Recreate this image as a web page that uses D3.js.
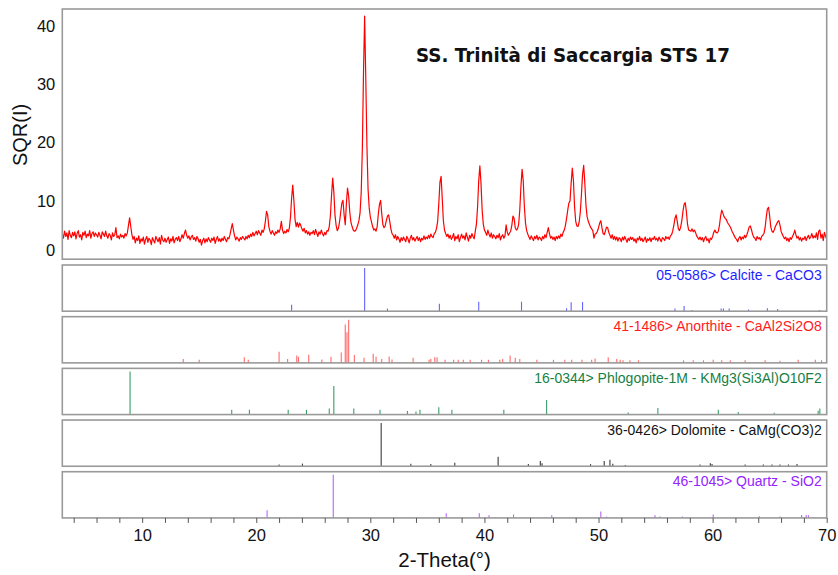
<!DOCTYPE html>
<html>
<head>
<meta charset="utf-8">
<script src="https://cdn.jsdelivr.net/npm/d3@7"></script>
<style>
  body { margin: 0; background: #fff; }
  svg { display: block; }
</style>
</head>
<body>
<svg id="chart" width="838" height="575"></svg>
<script>
// ---- Measured pattern: square root of counts, sampled every 0.1° from 3.0° to 70.0° 2θ ----
const thetaStart = 3.0;
const thetaStep = 0.1;
const sqrtIntensity = [
  4.3,3.6,4.8,3.9,4.5,3.4,4.9,4.1,3.7,4.6,
  4.0,4.7,3.5,4.4,4.9,3.8,4.2,3.3,4.6,4.1,
  4.8,3.7,4.3,4.0,4.9,3.6,4.4,4.7,3.9,4.5,
  4.2,3.8,4.6,4.1,3.5,4.7,4.3,3.9,4.8,4.0,
  3.6,4.4,4.1,3.3,4.5,3.9,4.2,5.4,3.7,4.0,
  3.5,4.3,3.8,4.1,3.6,4.4,4.0,4.5,5.8,7.1,
  5.6,4.2,3.4,3.9,2.8,3.6,3.2,4.0,2.7,3.5,
  3.1,3.8,2.6,3.4,3.9,2.9,3.6,3.3,2.5,3.7,
  3.2,2.8,3.9,3.4,3.0,3.7,2.6,4.1,3.3,3.0,
  3.6,2.9,3.4,3.8,2.7,3.5,3.1,3.9,2.8,3.4,
  3.7,3.2,3.9,3.0,3.5,4.2,3.6,4.4,5.0,4.1,
  3.6,4.0,3.3,3.8,4.1,3.4,3.7,3.1,3.9,3.5,
  2.9,3.4,2.4,3.2,3.6,2.8,3.5,3.0,3.7,3.3,
  2.9,3.6,3.2,3.8,2.7,3.4,3.9,3.1,3.5,3.0,
  3.6,3.2,3.9,3.4,3.0,3.7,3.5,4.2,5.2,6.1,
  5.0,4.0,3.3,3.8,3.5,3.1,3.7,3.4,3.9,3.6,
  3.3,3.9,3.5,4.1,3.7,4.3,3.9,4.6,4.0,4.4,
  4.8,4.2,4.9,4.5,4.1,5.0,4.6,5.2,6.5,8.2,
  7.6,5.6,4.8,4.3,4.9,4.5,4.1,4.7,4.4,5.0,
  4.6,5.2,6.5,5.0,4.4,4.8,4.5,5.1,4.7,5.3,
  7.2,10.5,12.7,10.0,6.8,5.6,6.3,5.5,6.2,5.8,
  5.2,4.8,5.3,4.5,4.9,4.3,4.7,4.1,4.6,4.4,
  4.9,4.2,5.1,4.5,3.9,4.7,4.3,5.0,4.4,4.0,
  4.6,4.2,4.9,4.8,5.6,7.5,11.0,13.9,11.5,7.6,
  5.8,4.9,5.3,6.4,8.0,9.6,10.1,7.6,5.9,9.5,
  12.2,10.8,8.0,6.3,5.6,5.0,4.8,4.9,5.3,5.9,
  6.6,8.0,11.5,19.0,32.0,41.7,31.0,19.5,12.0,8.8,
  7.2,6.4,5.6,5.0,5.2,4.8,5.6,7.8,9.4,10.1,
  7.8,5.9,5.4,5.7,6.6,7.4,7.6,6.5,5.2,4.4,
  4.1,3.6,4.2,3.3,3.9,3.5,2.9,3.7,3.2,3.8,
  3.4,3.0,3.9,3.5,2.8,3.6,4.1,3.3,3.7,3.1,
  3.5,3.9,3.2,3.7,3.0,3.6,3.3,4.0,3.4,3.8,
  3.5,4.1,3.6,4.3,3.9,3.7,4.4,4.6,5.3,6.5,
  9.5,13.2,14.2,10.5,6.6,5.0,4.4,3.9,4.3,3.6,
  4.1,3.4,3.8,4.4,3.2,3.9,3.5,4.2,3.0,3.7,
  4.3,3.6,4.0,3.3,4.5,3.8,3.1,4.1,3.6,4.4,
  3.9,3.5,4.8,6.0,9.0,13.5,16.0,13.0,8.4,6.0,
  5.0,4.6,4.1,5.0,4.3,3.8,4.5,3.6,4.2,3.9,
  3.5,4.1,3.7,4.4,3.3,3.9,4.2,3.6,4.0,5.9,
  4.6,4.1,4.5,4.8,5.8,7.4,7.0,5.4,5.0,5.2,
  6.0,8.5,12.5,15.4,13.5,9.0,6.2,4.9,4.3,3.8,
  3.4,4.0,3.6,3.2,3.9,3.5,4.1,3.3,3.8,3.6,
  3.2,3.9,3.5,4.2,3.7,4.6,5.4,4.4,3.6,3.9,
  3.4,3.8,3.2,3.9,3.5,4.0,3.6,4.3,3.9,4.6,
  5.0,5.8,7.0,8.4,9.6,10.0,13.0,15.6,13.5,9.0,
  6.5,5.7,5.6,6.3,8.0,11.0,14.5,16.1,13.0,9.2,
  7.3,6.5,6.0,5.5,5.2,4.9,3.6,4.3,4.4,4.8,
  5.4,6.2,6.6,5.4,4.4,4.2,4.8,5.5,5.4,4.6,
  4.1,3.6,4.2,3.4,3.9,3.3,3.8,3.1,3.7,3.5,
  3.0,3.8,3.3,3.9,3.4,2.9,3.6,3.2,3.8,3.4,
  3.7,3.1,3.5,2.8,3.6,3.3,3.9,3.2,3.6,3.0,
  3.4,3.8,2.9,3.5,3.2,3.7,3.0,3.6,3.4,3.9,
  3.3,3.6,3.1,3.8,3.4,3.0,3.7,3.5,3.2,3.9,
  3.5,3.8,3.4,4.0,4.2,4.8,5.8,7.0,7.6,6.5,
  5.2,4.9,5.5,6.6,8.2,9.4,9.7,8.2,6.0,5.0,
  4.9,4.8,5.2,4.7,5.0,4.6,4.0,3.7,3.4,3.8,
  3.3,3.7,3.0,3.6,3.9,3.2,3.5,2.8,3.6,3.4,
  3.9,4.6,5.0,4.6,4.5,4.8,5.8,7.4,8.4,7.9,
  7.3,7.0,6.8,6.3,6.0,5.7,5.3,4.8,4.4,4.0,
  3.6,3.4,3.0,3.6,3.9,3.3,3.8,3.5,4.1,3.7,
  4.2,4.8,5.5,5.7,5.1,4.3,3.8,3.6,3.2,3.9,
  3.5,3.7,3.3,3.9,4.1,4.4,5.4,7.2,8.6,8.9,
  7.4,5.5,4.8,4.6,5.0,5.6,6.0,6.4,6.6,5.9,
  4.8,4.3,3.9,3.5,3.8,3.2,3.6,3.0,3.7,3.4,
  3.9,4.3,5.0,4.2,3.6,3.9,3.3,3.7,3.1,3.6,
  3.4,3.9,3.2,3.7,4.1,3.5,3.8,4.4,3.6,4.0,
  3.7,4.5,3.4,4.8,5.0,3.6,4.3,3.2,4.6,3.9,
  3.5
];

// ---- Reference cards: [2θ (°), relative intensity (%)] ----
const calciteLines = [
  [23.1,15],[29.5,100],[31.5,6],[36.05,17],[39.5,22],[43.25,22],[47.2,7],[47.6,21],
  [48.6,21],[56.7,6],[57.5,12],[58.2,3],[60.75,6],[60.95,6],[61.45,6],[63.15,4],
  [64.8,7],[65.7,5],[69.35,3]
];
const anorthiteLines = [
  [13.6,9],[15.0,7],[18.95,13],[19.3,7],[22.0,26],[22.75,9],[23.55,17],[23.7,14],
  [24.6,19],[25.75,8],[26.55,14],[27.45,24],[27.8,89],[27.95,71],[28.1,100],[28.6,18],
  [29.45,12],[30.25,21],[30.5,14],[31.0,9],[31.65,15],[31.9,8],[33.75,12],[35.15,7],
  [35.3,9],[35.65,13],[35.85,13],[36.55,7],[37.3,7],[37.7,7],[38.15,7],[38.75,7],
  [39.75,7],[40.35,7],[41.35,7],[41.6,9],[42.25,17],[42.7,12],[43.1,9],[44.6,7],
  [46.05,7],[47.05,7],[47.65,7],[48.55,7],[49.4,7],[49.7,10],[50.85,13],[51.6,9],
  [51.9,7],[52.15,6],[52.75,6],[53.5,6],[57.45,6],[58.3,6],[59.2,6],[60.05,7],
  [60.8,6],[61.55,6],[62.85,6],[64.6,6],[65.9,5],[67.5,7],[69.0,7],[69.55,6]
];
const phlogopiteLines = [
  [8.94,100],[17.85,11],[19.4,11],[22.8,11],[24.4,11],[26.4,14],[26.8,66],[28.55,14],
  [30.85,11],[33.25,8],[34.0,7],[34.35,11],[36.0,17],[37.15,11],[41.7,11],[45.45,34],
  [52.6,5],[55.2,15],[60.5,11],[62.25,6],[65.4,4],[69.25,9],[69.4,14]
];
const dolomiteLines = [
  [22.0,4],[24.05,6],[30.95,100],[33.55,6],[35.3,5],[37.4,8],[41.2,22],[43.85,5],
  [44.9,12],[45.05,7],[49.3,5],[50.5,12],[51.0,15],[51.25,6],[52.35,3],[58.9,4],
  [59.8,7],[59.95,5],[62.85,4],[64.45,4],[65.2,4],[65.9,4],[66.65,4],[67.4,5]
];
const quartzLines = [
  [20.95,18],[26.75,100],[36.65,11],[39.55,11],[40.4,6],[42.55,8],[45.9,6],[50.2,15],
  [50.7,3],[54.95,6],[55.4,3],[57.35,3],[60.05,8],[64.1,4],[65.9,3],[67.8,7],
  [68.2,7],[68.4,6]
];
const phaseLabels = [
  "05-0586> Calcite - CaCO3",
  "41-1486> Anorthite - CaAl2Si2O8",
  "16-0344> Phlogopite-1M - KMg3(Si3Al)O10F2",
  "36-0426> Dolomite - CaMg(CO3)2",
  "46-1045> Quartz - SiO2"
];

// ---- Axis ticks ----
const xMinorTicks = d3.range(4, 71, 2);
const xTickLabels = [10, 20, 30, 40, 50, 60, 70];
const yTickLabels = [0, 10, 20, 30, 40];

const chartTitle = "SS. Trinità di Saccargia STS 17";
const xTitle = "2-Theta(°)";
const yTitle = "SQR(I)";

// ---- Layout and styles ----
const FONT = "'Liberation Sans', Arial, sans-serif";
const frameColor = "#9a9a9a";
const plotLeft = 62.3, plotRight = 826.7;
const mainTop = 9, mainBottom = 259.2;
const panelTop0 = 265, panelPitch = 51.68, panelHeight = 46.2;

const phaseStyles = [
  { stick: "#6464ff", text: "#1e1eff" },
  { stick: "#ff6a6a", text: "#ff1c1c" },
  { stick: "#3a9d6c", text: "#178045" },
  { stick: "#3a3a3a", text: "#141414" },
  { stick: "#b366ff", text: "#9424ff" }
];

const phases = [calciteLines, anorthiteLines, phlogopiteLines, dolomiteLines, quartzLines]
  .map((lines, i) => ({ lines, label: phaseLabels[i], style: phaseStyles[i] }));

const svg = d3.select("#chart");

const x = d3.scaleLinear().domain([3, 70]).range([plotLeft, plotRight]);
const y = d3.scaleLinear().domain([0, 42.9]).range([mainBottom, mainTop]);

// ---- Main pattern panel ----
svg.append("clipPath").attr("id", "mainClip")
  .append("rect")
  .attr("x", plotLeft).attr("y", mainTop)
  .attr("width", plotRight - plotLeft).attr("height", mainBottom - mainTop);

const pattern = sqrtIntensity.map((v, i) => [thetaStart + i * thetaStep, v]);

svg.append("path")
  .datum(pattern)
  .attr("clip-path", "url(#mainClip)")
  .attr("fill", "none")
  .attr("stroke", "#ff0000")
  .attr("stroke-width", 1.2)
  .attr("stroke-linejoin", "round")
  .attr("d", d3.line().x(d => x(d[0])).y(d => y(d[1])));

svg.append("rect")
  .attr("x", plotLeft).attr("y", mainTop)
  .attr("width", plotRight - plotLeft).attr("height", mainBottom - mainTop)
  .attr("fill", "none").attr("stroke", frameColor).attr("stroke-width", 1.6);

// y axis labels (no tick marks); the zero label is lifted to stay inside the frame
const yAxis = svg.append("g")
  .attr("transform", `translate(${plotLeft},0)`)
  .call(d3.axisLeft(y).tickValues(yTickLabels).tickSize(0).tickPadding(7));
yAxis.select(".domain").remove();
yAxis.selectAll("text")
  .attr("font-family", FONT).attr("font-size", 16.5).attr("fill", "#111")
  .filter(d => d === 0).attr("y", -8.5);

svg.append("text")
  .attr("transform", `translate(27,135) rotate(-90)`)
  .attr("text-anchor", "middle")
  .attr("font-family", FONT).attr("font-size", 20).attr("fill", "#111")
  .text(yTitle);

svg.append("text")
  .attr("x", 416).attr("y", 61.5)
  .attr("font-family", "'DejaVu Sans', sans-serif")
  .attr("font-weight", "bold")
  .attr("font-size", 19)
  .attr("textLength", 314).attr("lengthAdjust", "spacingAndGlyphs")
  .attr("fill", "#111")
  .text(chartTitle);

// ---- Reference stick panels ----
phases.forEach((p, i) => {
  const top = panelTop0 + i * panelPitch;
  const bottom = top + panelHeight;
  const ys = d3.scaleLinear().domain([0, 107]).range([bottom, top]);
  const g = svg.append("g");

  g.selectAll("line")
    .data(p.lines)
    .join("line")
    .attr("x1", d => x(d[0])).attr("x2", d => x(d[0]))
    .attr("y1", ys(0)).attr("y2", d => ys(d[1]))
    .attr("stroke", p.style.stick)
    .attr("stroke-width", 1.1);

  g.append("rect")
    .attr("x", plotLeft).attr("y", top)
    .attr("width", plotRight - plotLeft).attr("height", panelHeight)
    .attr("fill", "none").attr("stroke", frameColor).attr("stroke-width", 1.6);

  g.append("text")
    .attr("x", plotRight - 5).attr("y", top + 14.5)
    .attr("text-anchor", "end")
    .attr("font-family", FONT).attr("font-size", 14)
    .attr("fill", p.style.text)
    .text(p.label);

  if (i === phases.length - 1) {
    const xAxis = svg.append("g")
      .attr("transform", `translate(0,${bottom})`)
      .call(d3.axisBottom(x).tickValues(xMinorTicks).tickSize(5).tickPadding(6.5)
        .tickFormat(d => xTickLabels.includes(d) ? d : ""));
    xAxis.select(".domain").remove();
    xAxis.selectAll("line").attr("stroke", "#555").attr("stroke-width", 1);
    xAxis.selectAll("text").attr("font-family", FONT).attr("font-size", 16.5).attr("fill", "#111");
  }
});

svg.append("text")
  .attr("x", (plotLeft + plotRight) / 2).attr("y", 567)
  .attr("text-anchor", "middle")
  .attr("font-family", FONT).attr("font-size", 20.5).attr("fill", "#111")
  .text(xTitle);
</script>
</body>
</html>
